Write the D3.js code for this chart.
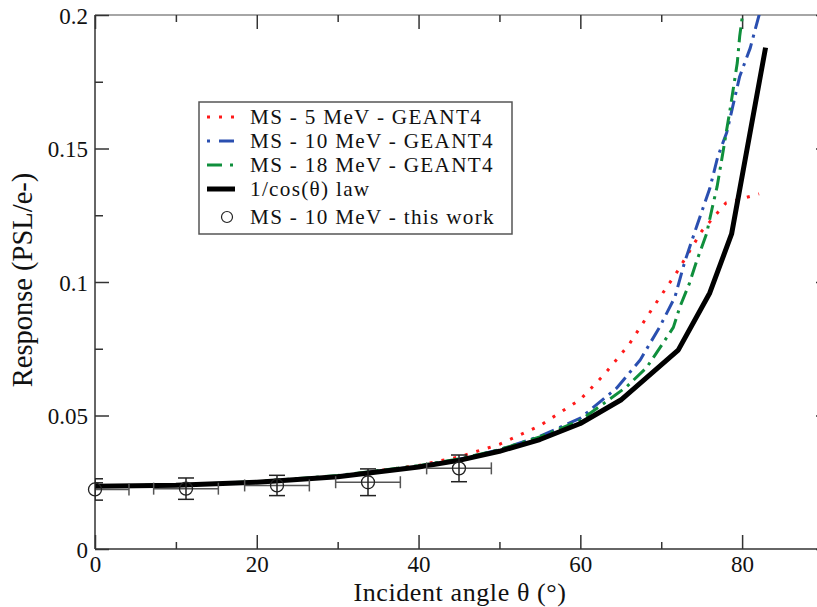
<!DOCTYPE html>
<html>
<head>
<meta charset="utf-8">
<script src="https://cdn.jsdelivr.net/npm/d3@7"></script>
<style>
  html, body { margin: 0; padding: 0; background: #fff; }
  svg { display: block; }
</style>
</head>
<body>
<svg id="chart" width="817" height="607"></svg>
<script>
// ---------------- data ----------------
const xTickValues = [0, 20, 40, 60, 80];
const xMinorTicks = [10, 30, 50, 70, 90];
const yTickValues = [0, 0.05, 0.1, 0.15, 0.2];
const yMinorTicks = [0.025, 0.075, 0.125, 0.175];
const yTickLabels = ["0", "0.05", "0.1", "0.15", "0.2"];

const ms5Geant4 = [
  [0, 0.0235], [10, 0.0238], [20, 0.0251], [30, 0.0273], [40, 0.0313], [45, 0.0345],
  [50, 0.0392], [55, 0.0462], [60, 0.0560], [63, 0.0655], [66, 0.0765], [69, 0.0905],
  [72, 0.1040], [75, 0.1190], [78, 0.1296], [82.1, 0.1330]
];
const ms10Geant4 = [
  [0, 0.0235], [10, 0.0238], [20, 0.0250], [30, 0.0273], [40, 0.0310], [45, 0.0336],
  [50, 0.0372], [55, 0.0422], [60, 0.0490], [64.5, 0.0603], [67.4, 0.0708], [69.8, 0.0831],
  [71.7, 0.0944], [72.9, 0.1075], [74.4, 0.1210], [76, 0.1350], [77, 0.1470], [78.1, 0.1560],
  [79.7, 0.1770], [81, 0.1876], [82.1, 0.2000], [82.8, 0.2080]
];
const ms18Geant4 = [
  [0, 0.0236], [10, 0.0240], [20, 0.0252], [30, 0.0275], [40, 0.0312], [45, 0.0337],
  [50, 0.0372], [55, 0.0420], [60, 0.0482], [65.7, 0.0607], [68.2, 0.0680], [70.2, 0.0770],
  [71.5, 0.0830], [72.3, 0.0906], [73.5, 0.0996], [74.4, 0.1080], [75.6, 0.1180],
  [76.3, 0.1277], [76.9, 0.1356], [77.6, 0.1480], [78.5, 0.1644], [79.4, 0.1820],
  [79.7, 0.1920], [80.05, 0.2000], [80.5, 0.2100]
];
const cosLaw = [
  [0, 0.0235], [10, 0.0239], [20, 0.0250], [30, 0.0271], [40, 0.0307], [45, 0.0332],
  [50, 0.0366], [55, 0.0410], [60, 0.0470], [65, 0.0558], [72.1, 0.0745], [76, 0.0959],
  [78.7, 0.1180], [82.9, 0.1878]
];
// measured points: angle, response, angle error, response error
const thisWorkAngle = [0, 11.25, 22.5, 33.75, 45];
const thisWorkResp  = [0.0223, 0.0226, 0.0238, 0.0250, 0.0302];
const thisWorkAngErr = [4.2, 4, 4, 4, 4];
const thisWorkRespErr = [0.0040, 0.0040, 0.0038, 0.0050, 0.0050];

const legendLabels = [
  "MS - 5 MeV - GEANT4",
  "MS - 10 MeV - GEANT4",
  "MS - 18 MeV - GEANT4",
  "1/cos(\u03B8) law",
  "MS - 10 MeV - this work"
];

// ---------------- layout ----------------
const FONT = "'Liberation Serif', 'Times New Roman', Times, 'DejaVu Serif', serif";
const svg = d3.select("#chart");
const pLeft = 95, pRight = 823, pTop = 15, pBottom = 549;
const x = d3.scaleLinear().domain([0, 90]).range([pLeft, pRight]);
const y = d3.scaleLinear().domain([0, 0.2]).range([pBottom, pTop]);

const series = [
  { data: ms5Geant4, color: "#ff1a1a", width: 3, dash: "3,9" },
  { data: ms10Geant4, color: "#2a4fb0", width: 3, dash: "15,6,3,6" },
  { data: ms18Geant4, color: "#0f8f3c", width: 3, dash: "15,6,3,6", offset: 10 },
  { data: cosLaw, color: "#000", width: 5, dash: null }
];

svg.append("defs").append("clipPath").attr("id", "clip")
  .append("rect").attr("x", pLeft).attr("y", pTop)
  .attr("width", pRight - pLeft + 10).attr("height", pBottom - pTop);

// frame
const frameColor = "#333";
svg.append("line").attr("x1", pLeft).attr("x2", 900).attr("y1", pTop).attr("y2", pTop)
  .attr("stroke", "#888").attr("stroke-width", 1.5);
svg.append("line").attr("x1", pLeft).attr("x2", 900).attr("y1", pBottom).attr("y2", pBottom)
  .attr("stroke", frameColor).attr("stroke-width", 1.5);
svg.append("line").attr("x1", pLeft).attr("x2", pLeft).attr("y1", pTop).attr("y2", pBottom)
  .attr("stroke", frameColor).attr("stroke-width", 1.5);

// axes (inward ticks)
function styleAxis(g) {
  g.select(".domain").remove();
  g.attr("font-family", FONT);
  g.selectAll(".tick line").attr("stroke", frameColor).attr("stroke-width", 1.5);
}
const rightX = 830;
svg.append("g").attr("transform", `translate(0,${pBottom})`)
  .call(d3.axisBottom(x).tickValues(xTickValues).tickSize(-14).tickFormat(d3.format("d")))
  .call(styleAxis)
  .call(g => g.selectAll(".tick text").attr("font-size", 23).attr("dy", 0).attr("y", 23)
    .attr("font-family", FONT).attr("fill", "#111"));
svg.append("g").attr("transform", `translate(0,${pBottom})`)
  .call(d3.axisBottom(x).tickValues(xMinorTicks).tickSize(-7).tickFormat(""))
  .call(styleAxis);
svg.append("g").attr("transform", `translate(0,${pTop})`)
  .call(d3.axisTop(x).tickValues(xTickValues).tickSize(-14).tickFormat(""))
  .call(styleAxis);
svg.append("g").attr("transform", `translate(0,${pTop})`)
  .call(d3.axisTop(x).tickValues(xMinorTicks).tickSize(-7).tickFormat(""))
  .call(styleAxis);
svg.append("g").attr("transform", `translate(${pLeft},0)`)
  .call(d3.axisLeft(y).tickValues(yTickValues).tickSize(-14)
    .tickFormat((d, i) => yTickLabels[i]))
  .call(styleAxis)
  .call(g => g.selectAll(".tick text").attr("font-size", 23).attr("x", -7).attr("dy", "0.35em")
    .attr("font-family", FONT).attr("fill", "#111"));
svg.append("g").attr("transform", `translate(${pLeft},0)`)
  .call(d3.axisLeft(y).tickValues(yMinorTicks).tickSize(-8).tickFormat(""))
  .call(styleAxis);
svg.append("g").attr("transform", `translate(${rightX},0)`)
  .call(d3.axisRight(y).tickValues(yTickValues).tickSize(-14).tickFormat(""))
  .call(styleAxis);
svg.append("g").attr("transform", `translate(${rightX},0)`)
  .call(d3.axisRight(y).tickValues(yMinorTicks).tickSize(-8).tickFormat(""))
  .call(styleAxis);

// axis titles
svg.append("text").attr("x", 460).attr("y", 601).attr("text-anchor", "middle")
  .attr("font-family", FONT).attr("fill", "#111").attr("letter-spacing", 0.6)
  .attr("font-size", 26).text("Incident angle \u03B8 (\u00B0)");
svg.append("text").attr("transform", "translate(32,280) rotate(-90)")
  .attr("font-family", FONT).attr("fill", "#111")
  .attr("text-anchor", "middle").attr("font-size", 28.5).text("Response (PSL/e-)");

// curves
const plot = svg.append("g").attr("clip-path", "url(#clip)");
const line = d3.line().x(d => x(d[0])).y(d => y(d[1]));
series.forEach(s => {
  plot.append("path").datum(s.data).attr("d", line)
    .attr("fill", "none").attr("stroke", s.color).attr("stroke-width", s.width)
    .attr("stroke-dasharray", s.dash).attr("stroke-dashoffset", s.offset || 0)
    .attr("stroke-linejoin", "round");
});

// measured points with error bars
const pts = thisWorkAngle.map((a, i) => ({
  a, r: thisWorkResp[i], ea: thisWorkAngErr[i], er: thisWorkRespErr[i]
}));
const eb = plot.append("g");
pts.forEach(p => {
  const cx = x(p.a), cy = y(p.r);
  const x0 = x(p.a - p.ea), x1 = x(p.a + p.ea);
  const y0 = y(p.r - p.er), y1 = y(p.r + p.er);
  eb.append("line").attr("x1", x0).attr("x2", x1).attr("y1", cy).attr("y2", cy)
    .attr("stroke", "#555").attr("stroke-width", 1.5);
  [x0, x1].forEach(xx => eb.append("line").attr("x1", xx).attr("x2", xx)
    .attr("y1", cy - 6).attr("y2", cy + 6).attr("stroke", "#555").attr("stroke-width", 1.5));
  eb.append("line").attr("x1", cx).attr("x2", cx).attr("y1", y0).attr("y2", y1)
    .attr("stroke", "#222").attr("stroke-width", 1.5);
  [y0, y1].forEach(yy => eb.append("line").attr("x1", cx - 8).attr("x2", cx + 8)
    .attr("y1", yy).attr("y2", yy).attr("stroke", "#222").attr("stroke-width", 1.5));
});
svg.append("g").selectAll("circle").data(pts).join("circle")
  .attr("cx", d => x(d.a)).attr("cy", d => y(d.r)).attr("r", 6.5)
  .attr("fill", "none").attr("stroke", "#222").attr("stroke-width", 1.3);

// legend
const lg = svg.append("g");
lg.append("rect").attr("x", 199).attr("y", 102).attr("width", 313).attr("height", 132)
  .attr("fill", "#fff").attr("stroke", "#555").attr("stroke-width", 1.5);
const rowY = [117, 141, 165, 189, 217];
legendLabels.forEach((lab, i) => {
  const yy = rowY[i];
  if (i < 4) {
    const s = series[i];
    lg.append("line").attr("x1", 207).attr("x2", 235).attr("y1", yy).attr("y2", yy)
      .attr("stroke", s.color).attr("stroke-width", s.width)
      .attr("stroke-dasharray", i === 1 ? "3,9,15" : i === 2 ? "15,8,3" : s.dash);
  } else {
    lg.append("circle").attr("cx", 227).attr("cy", yy).attr("r", 5.5)
      .attr("fill", "none").attr("stroke", "#222").attr("stroke-width", 1.2);
  }
  lg.append("text").attr("x", 250).attr("y", yy).attr("dy", "0.35em")
    .attr("font-family", FONT).attr("fill", "#111").attr("letter-spacing", 1.3)
    .attr("font-size", 21.2).text(lab);
});
</script>
</body>
</html>
